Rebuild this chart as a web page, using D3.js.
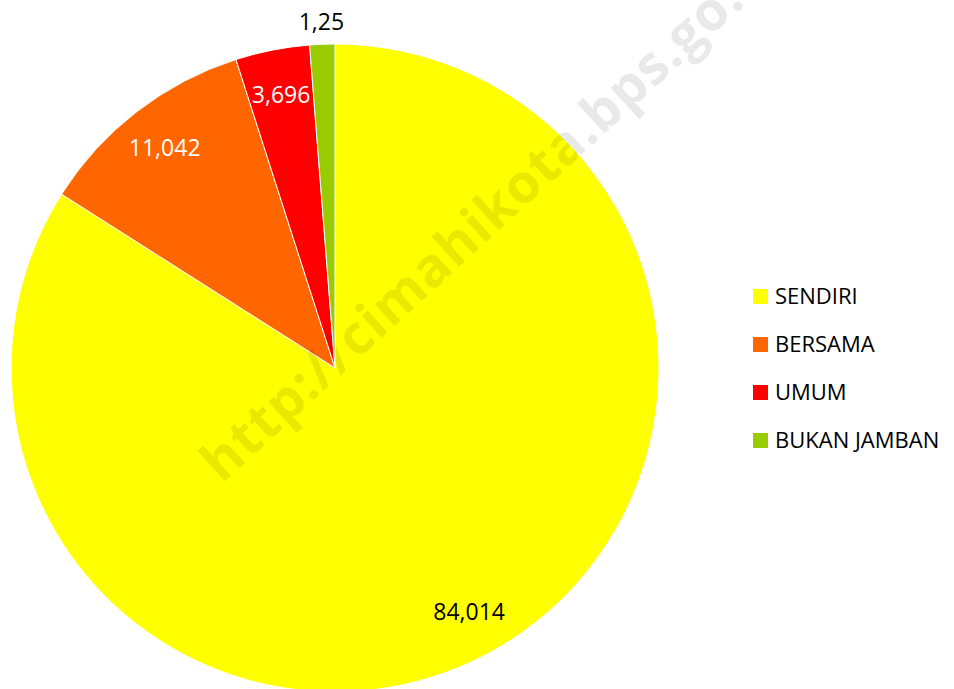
<!DOCTYPE html>
<html>
<head>
<meta charset="utf-8">
<script src="https://cdn.jsdelivr.net/npm/d3@7"></script>
<style>
  body { margin: 0; background: #fff; }
  text { font-family: "Open Sans", "Liberation Sans", sans-serif; }
</style>
</head>
<body>
<script>
"use strict";

var categories = ["SENDIRI", "BERSAMA", "UMUM", "BUKAN JAMBAN"];
var values = [84.014, 11.042, 3.696, 1.25];
var colors = ["#ffff00", "#ff6600", "#ff0000", "#99cc00"];
var labelColors = ["#000", "#fff", "#fff", "#000"];

var width = 954, height = 689;
var cx = 335, cy = 368, radius = 324;

var svg = d3.select("body").append("svg")
  .attr("width", width)
  .attr("height", height);

var data = categories.map(function(c, i) {
  return {name: c, value: values[i], color: colors[i], labelColor: labelColors[i]};
});

var pie = d3.pie()
  .sort(null)
  .value(function(d) { return d.value; });

var arc = d3.arc().innerRadius(0).outerRadius(radius);
var labelArc = d3.arc().innerRadius(radius * 0.86).outerRadius(radius * 0.86);
var outsideArc = d3.arc().innerRadius(radius + 22).outerRadius(radius + 22);

var chart = svg.append("g")
  .attr("transform", "translate(" + cx + "," + cy + ")");

var arcs = pie(data);

chart.selectAll("path")
  .data(arcs)
  .enter().append("path")
  .attr("d", arc)
  .attr("fill", function(d) { return d.data.color; })
  .attr("stroke", "#fff")
  .attr("stroke-width", 1);

// data labels, the tiny slice gets its label outside
chart.selectAll("text.lbl")
  .data(arcs)
  .enter().append("text")
  .attr("class", "lbl")
  .attr("transform", function(d) {
    var p = d.data.value < 2 ? outsideArc.centroid(d) : labelArc.centroid(d);
    return "translate(" + p + ")";
  })
  .attr("text-anchor", "middle")
  .attr("dy", "0.35em")
  .attr("font-size", 23)
  .attr("fill", function(d) { return d.data.labelColor; })
  .text(function(d) { return String(d.data.value).replace(".", ","); });

// watermark
svg.append("text")
  .attr("transform", "translate(222,484) rotate(-42.5)")
  .attr("font-size", 54)
  .attr("font-weight", "bold")
  .attr("fill", "#000")
  .attr("fill-opacity", 0.085)
  .attr("letter-spacing", 1)
  .text("http://cimahikota.bps.go.id");

// legend
var legend = svg.append("g")
  .attr("transform", "translate(753,296)");

var items = legend.selectAll("g")
  .data(data)
  .enter().append("g")
  .attr("transform", function(d, i) { return "translate(0," + (i * 48) + ")"; });

items.append("rect")
  .attr("x", 0)
  .attr("y", -7)
  .attr("width", 15)
  .attr("height", 15)
  .attr("fill", function(d) { return d.color; });

items.append("text")
  .attr("x", 22)
  .attr("dy", "0.35em")
  .attr("font-size", 22)
  .attr("fill", "#000")
  .text(function(d) { return d.name; });
</script>
</body>
</html>
